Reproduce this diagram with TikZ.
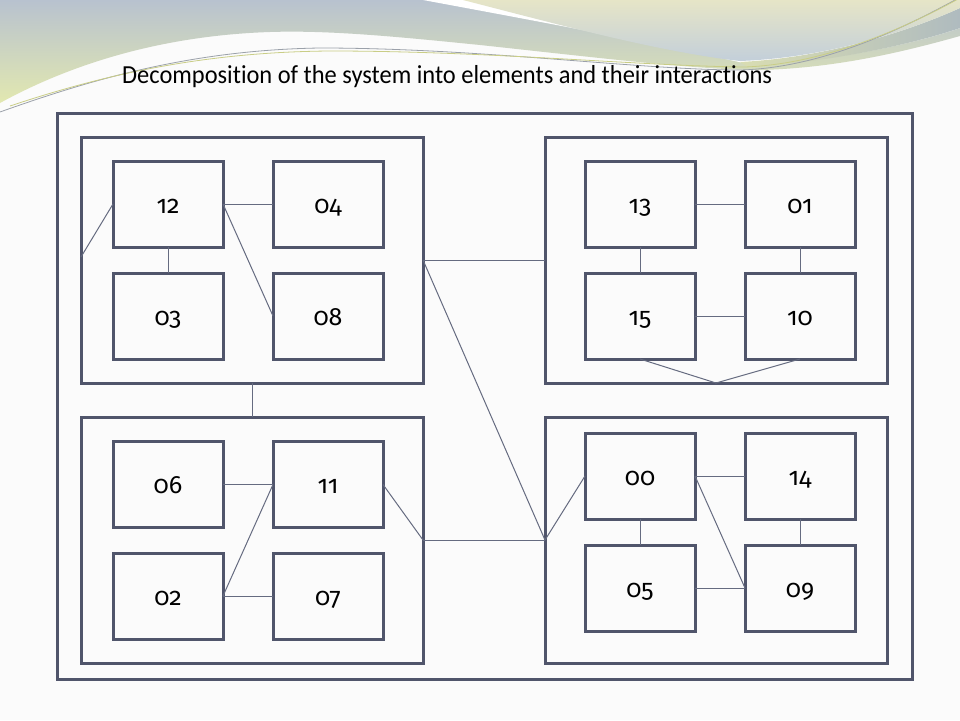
\documentclass[tikz,border=0pt]{standalone}
\usepackage{fontspec}
\setmainfont{Carlito}[Ligatures={NoCommon}]
\newfontfamily\numfont[Numbers=OldStyle]{Fira Sans}
\usetikzlibrary{calc}
\definecolor{boxc}{HTML}{50556B}
\definecolor{linec}{HTML}{656B80}
\definecolor{graytop}{HTML}{B8C2CF}
\definecolor{graymid}{HTML}{CAD1C2}
\definecolor{yellowgreen}{HTML}{E2E8B0}
\definecolor{palety}{HTML}{E6E5C7}
\definecolor{bluegray}{HTML}{C3CFDA}
\definecolor{bandc}{HTML}{AFBBBF}
\definecolor{bandl}{HTML}{D9DDB2}
\definecolor{thinA}{HTML}{9BA1AA}
\definecolor{thinB}{HTML}{C9CD86}
\definecolor{paper}{HTML}{FBFBFB}
\begin{document}
\begin{tikzpicture}[x=1pt,y=-1pt,
  elem/.style={draw=boxc, line width=3pt, minimum width=110pt, minimum height=86pt,
    inner sep=0pt, outer sep=0pt, text height=18pt, text depth=0pt,
    font=\numfont\fontsize{25}{27}\selectfont},
  grp/.style={draw=boxc, line width=3pt, minimum width=342pt, minimum height=246pt,
    inner sep=0pt, outer sep=0pt},
  frame/.style={draw=boxc, line width=3pt, minimum width=855pt, minimum height=566pt,
    inner sep=0pt, outer sep=0pt},
  link/.style={draw=linec, line width=1pt}]
% page
\fill[paper] (0,0) rectangle (960,720);
\useasboundingbox (0,0) rectangle (960,720);
% decoration: region A
\shade[top color=graytop, middle color=graymid, bottom color=yellowgreen]
  (0,0) -- (960,0) -- (960,36)
  .. controls (910,50) and (840,68) .. (760,70)
  .. controls (700,70) and (600,58) .. (480,45)
  .. controls (400,37) and (330,30) .. (270,32)
  .. controls (150,36) and (60,70) .. (0,103) -- cycle;
% white stripe
\fill[white] (423,0) .. controls (520,18) and (650,42) .. (748,64)
  .. controls (830,62) and (910,45) .. (960,28) -- (960,0) -- cycle;
% band C
\shade[left color=bandl, right color=bandc]
  (740,62) .. controls (820,58) and (900,35) .. (960,8) -- (960,28)
  .. controls (910,45) and (830,62) .. (748,67) -- cycle;
% region B
\shade[top color=palety, bottom color=bluegray]
  (463,0) .. controls (560,25) and (660,52) .. (740,61)
  .. controls (820,58) and (900,35) .. (960,8) -- (960,0) -- cycle;
% thin lines
\draw[thinA, line width=0.8pt] (0,112) .. controls (90,80) and (190,50) .. (320,48)
  .. controls (480,48) and (640,70) .. (740,70)
  .. controls (820,68) and (900,30) .. (955,0);
\draw[thinB, line width=0.8pt] (10,106) .. controls (100,76) and (200,52) .. (330,51)
  .. controls (490,51) and (640,66) .. (745,67)
  .. controls (825,64) and (905,28) .. (960,-2);
% title
\node[anchor=base west, inner sep=0pt, font=\fontsize{26}{30}\selectfont, text=black] (title)
  at (122,83) {\scalebox{0.94}[1]{Decomposition of the system into elements and their interactions}};
% outer frame
\node[frame] (outer) at (484.5,396) {};
% groups
\node[grp] (gTL) at (252,260) {};
\node[grp] (gBL) at (252,540) {};
\node[grp] (gTR) at (716,260) {};
\node[grp] (gBR) at (716,540) {};
% elements
\node[elem] (n12) at (168,204) {12};
\node[elem] (n04) at (328,204) {04};
\node[elem] (n03) at (168,316) {03};
\node[elem] (n08) at (328,316) {08};
\node[elem] (n06) at (168,484.5) {06};
\node[elem] (n11) at (328,484.5) {11};
\node[elem] (n02) at (168,596) {02};
\node[elem] (n07) at (328,596) {07};
\node[elem] (n13) at (640,204) {13};
\node[elem] (n01) at (800,204) {01};
\node[elem] (n15) at (640,316) {15};
\node[elem] (n10) at (800,316) {10};
\node[elem] (n00) at (640,476) {00};
\node[elem] (n14) at (800,476) {14};
\node[elem] (n05) at (640,588) {05};
\node[elem] (n09) at (800,588) {09};
% connectors: top-left group
\draw[link] (n12.west) -- ([yshift=3pt]gTL.west);
\draw[link] (n12.east) -- (n04.west);
\draw[link] (n12.east) -- (n08.west);
\draw[link] (n12.south) -- (n03.north);
% bottom-left group
\draw[link] (n06.east) -- (n11.west);
\draw[link] (n02.east) -- (n11.west);
\draw[link] (n02.east) -- (n07.west);
\draw[link] (n11.east) -- (gBL.east);
% top-right group
\draw[link] (n13.east) -- (n01.west);
\draw[link] (n13.south) -- (n15.north);
\draw[link] (n01.south) -- (n10.north);
\draw[link] (n15.east) -- (n10.west);
\draw[link] (n15.south) -- (gTR.south) -- (n10.south);
% bottom-right group
\draw[link] (n00.east) -- (n14.west);
\draw[link] (n00.south) -- (n05.north);
\draw[link] (n14.south) -- (n09.north);
\draw[link] (n05.east) -- (n09.west);
\draw[link] (n00.east) -- (n09.west);
\draw[link] (gBR.west) -- (n00.west);
% between groups
\draw[link] (gTL.south) -- (gBL.north);
\draw[link] (gTL.east) -- (gTR.west);
\draw[link] (gTL.east) -- (gBR.west);
\draw[link] (gBL.east) -- (gBR.west);
\end{tikzpicture}
\end{document}
